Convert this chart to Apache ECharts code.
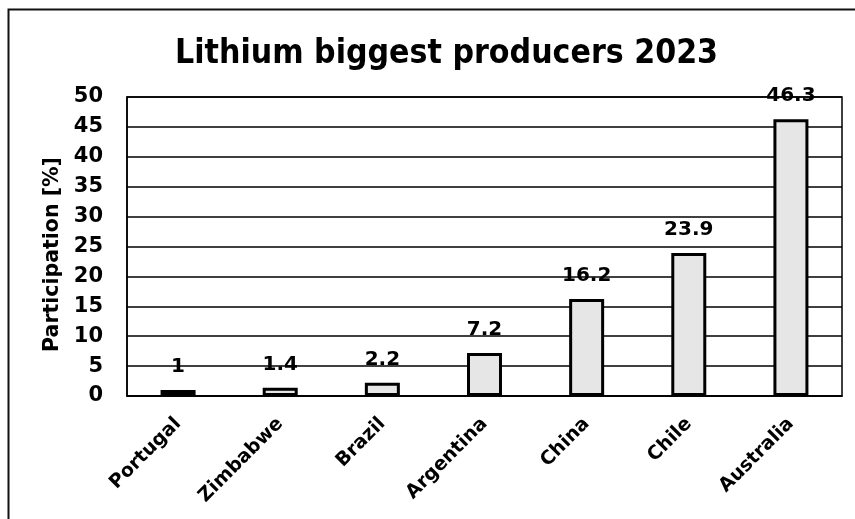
<!DOCTYPE html>
<html>
<head>
<meta charset="utf-8">
<script src="https://cdn.jsdelivr.net/npm/echarts@6/dist/echarts.min.js"></script>
<style>
  html, body { margin: 0; padding: 0; background: #fff; }
  #chart { width: 855px; height: 519px; }
</style>
</head>
<body>
<div id="chart"></div>
<script>
// Share of world lithium production, 2023
const countries = ['Portugal', 'Zimbabwe', 'Brazil', 'Argentina', 'China', 'Chile', 'Australia'];
const participation = [1, 1.4, 2.2, 7.2, 16.2, 23.9, 46.3];
const titleText = 'Lithium biggest producers 2023';
const yAxisName = 'Participation [%]';

const FONT = '"DejaVu Sans", Verdana, sans-serif';

const chart = echarts.init(document.getElementById('chart'), null, { renderer: 'canvas' });

chart.setOption({
  backgroundColor: '#ffffff',
  animation: false,
  title: {
    text: titleText,
    left: 170,
    top: 32,
    textStyle: {
      fontFamily: '"DejaVu Sans Condensed", "DejaVu Sans", sans-serif',
      fontWeight: 'bold',
      fontSize: 33.5,
      color: '#000'
    }
  },
  graphic: [{
    type: 'rect',
    shape: { x: 8.5, y: 9.5, width: 900, height: 600 },
    style: { fill: 'none', stroke: '#111', lineWidth: 2 },
    silent: true,
    z: -1
  }],
  grid: {
    left: 127,
    right: 13,
    top: 97,
    bottom: 123,
    show: true,
    borderColor: '#000',
    borderWidth: 1.5,
    backgroundColor: 'transparent'
  },
  xAxis: {
    type: 'category',
    data: countries,
    axisLine: { show: true, lineStyle: { color: '#000', width: 1.5 } },
    axisTick: { show: false },
    axisLabel: {
      rotate: 45,
      interval: 0,
      margin: 25,
      fontFamily: FONT,
      fontWeight: 'bold',
      fontSize: 19,
      color: '#000'
    }
  },
  yAxis: {
    type: 'value',
    min: 0,
    max: 50,
    interval: 5,
    name: yAxisName,
    nameLocation: 'middle',
    nameGap: 64,
    nameRotate: 90,
    nameTextStyle: {
      fontFamily: FONT,
      fontWeight: 'bold',
      fontSize: 20.5,
      color: '#000',
      padding: [0, 16, 0, 0]
    },
    axisLine: { show: true, lineStyle: { color: '#000', width: 1.5 } },
    axisTick: { show: false },
    axisLabel: {
      margin: 24,
      fontFamily: FONT,
      fontWeight: 'bold',
      fontSize: 21,
      color: '#000'
    },
    splitLine: { show: true, lineStyle: { color: '#000', width: 1.5 } }
  },
  series: [{
    type: 'bar',
    data: participation,
    barWidth: 35,
    itemStyle: {
      color: '#e6e6e6',
      borderColor: '#000',
      borderWidth: 3
    },
    label: {
      show: true,
      position: 'top',
      distance: 13,
      fontFamily: FONT,
      fontWeight: 'bold',
      fontSize: 20,
      color: '#000'
    }
  }]
});
</script>
</body>
</html>
